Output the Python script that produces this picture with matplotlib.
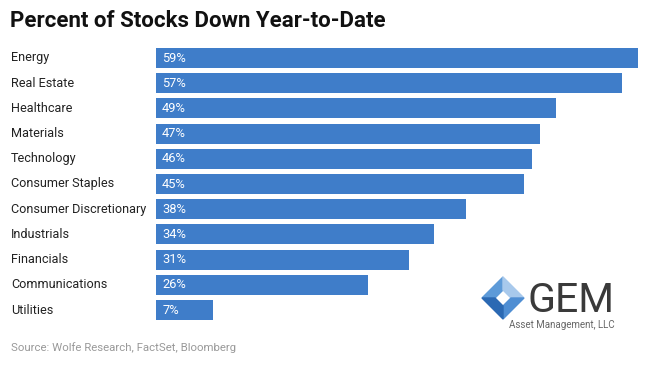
import matplotlib
matplotlib.use("Agg")
import matplotlib.pyplot as plt
from matplotlib.patches import Polygon

plt.rcParams['font.family'] = ['Roboto', 'DejaVu Sans']

# data
sectors = ["Energy", "Real Estate", "Healthcare", "Materials", "Technology",
           "Consumer Staples", "Consumer Discretionary", "Industrials",
           "Financials", "Communications", "Utilities"]
pct_down = [59, 57, 49, 47, 46, 45, 38, 34, 31, 26, 7]

bar_color = "#3f7dc9"

fig = plt.figure(figsize=(6.5, 3.65), dpi=100)
ax = fig.add_axes([156/650, 1 - 322.6/365, (638 - 156)/650, 277.2/365])

ypos = list(range(len(sectors)))
ax.barh(ypos, pct_down, height=0.8, color=bar_color)
ax.set_xlim(0, 59)
ax.set_ylim(len(sectors) - 0.5, -0.5)
ax.axis("off")

for y, v in zip(ypos, pct_down):
    ax.text(0.75, y, f"{v}%", color="white", va="center", ha="left", fontsize=9.3)

# labels on the left, in figure pixels
ov = fig.add_axes([0, 0, 1, 1], zorder=-1)
ov.set_xlim(0, 650)
ov.set_ylim(365, 0)
ov.axis("off")
ov.patch.set_alpha(0)

for i, s in enumerate(sectors):
    yc = 58 + i * 25.2
    ov.text(11, yc, s, va="center", ha="left", fontsize=9.1, color="#222222")

ov.text(10, 21, "Percent of Stocks Down Year-to-Date", fontsize=16,
        fontweight="bold", va="center", ha="left", color="#111111")
ov.text(11, 348, "Source: Wolfe Research, FactSet, Bloomberg", fontsize=8.2,
        va="center", ha="left", color="#999999")

# logo
lg = fig.add_axes([0, 0, 1, 1], zorder=5)
lg.set_xlim(0, 650)
lg.set_ylim(365, 0)
lg.axis("off")
lg.patch.set_alpha(0)
cx, cy, R, r = 503, 298, 21, 8
top, right, bot, left = (cx, cy - R), (cx + R, cy), (cx, cy + R), (cx - R, cy)
itop, iright, ibot, ileft = (cx, cy - r), (cx + r, cy), (cx, cy + r), (cx - r, cy)
lg.add_patch(Polygon([left, top, itop, ileft], color="#5d9ad8"))
lg.add_patch(Polygon([top, right, iright, itop], color="#a8c9ec"))
lg.add_patch(Polygon([right, bot, ibot, iright], color="#4f8ed3"))
lg.add_patch(Polygon([bot, left, ileft, ibot], color="#2b69b3"))
lg.text(528, 312, "GEM", fontsize=29.5, color="#3a3a3a", va="baseline", ha="left")
lg.text(509, 325, "Asset Management, LLC", fontsize=7, color="#666666",
        va="center", ha="left")

fig.savefig("out.png", dpi=100, facecolor="white")
